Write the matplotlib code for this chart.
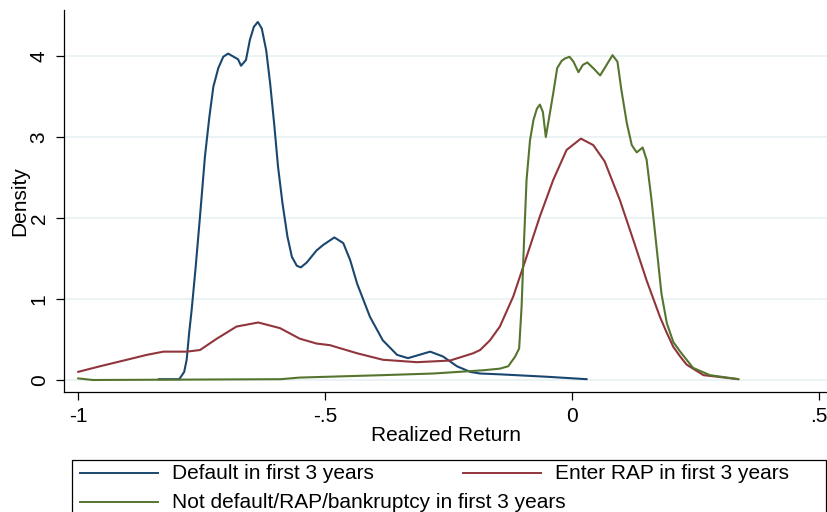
import matplotlib.pyplot as plt
from matplotlib.lines import Line2D
from matplotlib.patches import Rectangle

plt.rcParams["font.family"] = ["Liberation Sans", "DejaVu Sans"]

# density curves
default_x = [-0.837, -0.795, -0.785, -0.780, -0.775, -0.770, -0.762, -0.753, -0.743,
             -0.734, -0.726, -0.716, -0.706, -0.696, -0.682, -0.676, -0.670, -0.660,
             -0.652, -0.644, -0.636, -0.628, -0.619, -0.611, -0.603, -0.595, -0.586,
             -0.576, -0.567, -0.557, -0.549, -0.537, -0.517, -0.503, -0.481, -0.463,
             -0.449, -0.435, -0.409, -0.383, -0.354, -0.332, -0.287, -0.261, -0.233,
             -0.206, -0.186, -0.146, -0.051, 0.030]
default_y = [0.01, 0.01, 0.10, 0.25, 0.58, 0.86, 1.38, 2.02, 2.76,
             3.25, 3.62, 3.85, 3.99, 4.03, 3.98, 3.96, 3.88, 3.95,
             4.20, 4.36, 4.42, 4.34, 4.07, 3.66, 3.17, 2.63, 2.18,
             1.77, 1.52, 1.41, 1.39, 1.45, 1.60, 1.67, 1.76, 1.69,
             1.48, 1.19, 0.78, 0.49, 0.31, 0.27, 0.35, 0.29, 0.17,
             0.10, 0.08, 0.07, 0.04, 0.01]

rap_x = [-1.0, -0.955, -0.901, -0.861, -0.827, -0.780, -0.753, -0.719, -0.679,
         -0.635, -0.591, -0.551, -0.517, -0.490, -0.435, -0.383, -0.314, -0.247,
         -0.200, -0.186, -0.166, -0.146, -0.119, -0.092, -0.065, -0.038, -0.011,
         0.018, 0.043, 0.066, 0.097, 0.124, 0.151, 0.178, 0.192, 0.205, 0.219,
         0.232, 0.266, 0.337]
rap_y = [0.10, 0.17, 0.25, 0.31, 0.35, 0.35, 0.37, 0.51, 0.66,
         0.71, 0.64, 0.51, 0.45, 0.43, 0.33, 0.25, 0.22, 0.24,
         0.33, 0.37, 0.49, 0.66, 1.03, 1.52, 2.02, 2.47, 2.84,
         2.98, 2.90, 2.70, 2.22, 1.73, 1.23, 0.78, 0.58, 0.41, 0.29,
         0.19, 0.06, 0.01]

other_x = [-1.0, -0.970, -0.590, -0.551, -0.383, -0.281, -0.180, -0.146, -0.129,
           -0.115, -0.107, -0.102, -0.097, -0.092, -0.085, -0.078, -0.071, -0.065,
           -0.059, -0.053, -0.046, -0.038, -0.030, -0.021, -0.014, -0.005, 0.003,
           0.013, 0.022, 0.031, 0.043, 0.057, 0.070, 0.082, 0.092, 0.100, 0.111,
           0.121, 0.131, 0.143, 0.151, 0.161, 0.171, 0.181, 0.192, 0.205, 0.219,
           0.245, 0.279, 0.337]
other_y = [0.02, 0.00, 0.01, 0.03, 0.06, 0.08, 0.12, 0.14, 0.17,
           0.29, 0.39, 0.91, 1.73, 2.47, 2.96, 3.21, 3.35, 3.40,
           3.31, 3.00, 3.25, 3.54, 3.85, 3.94, 3.97, 3.99, 3.93,
           3.80, 3.89, 3.92, 3.85, 3.76, 3.89, 4.01, 3.93, 3.58, 3.17,
           2.90, 2.81, 2.87, 2.72, 2.22, 1.65, 1.07, 0.70, 0.47, 0.35,
           0.15, 0.06, 0.01]

labels = ["Default in first 3 years", "Enter RAP in first 3 years",
          "Not default/RAP/bankruptcy in first 3 years"]
colors = ["#1a476f", "#90353b", "#55752f"]

xticks = [-1, -0.5, 0, 0.5]
xticklabels = ["-1", "-.5", "0", ".5"]
yticks = [0, 1, 2, 3, 4]

fs = 15

fig = plt.figure(figsize=(8.28, 5.12), dpi=100)
ax = fig.add_axes([0.0773, 0.2344, 0.9227, 0.7461])

for y in yticks:
    ax.axhline(y, color="#eaf2f3", lw=1.3, zorder=0)

line_kw = dict(lw=1.5, solid_joinstyle="round", solid_capstyle="round")
ax.plot(default_x, default_y, color=colors[0], **line_kw)
ax.plot(rap_x, rap_y, color=colors[1], **line_kw)
ax.plot(other_x, other_y, color=colors[2], **line_kw)

ax.set_xlim(-1.0283, 0.5182)
ax.set_ylim(-0.148, 4.568)
ax.set_xticks(xticks)
ax.set_xticklabels(xticklabels)
ax.set_yticks(yticks)
ax.set_yticklabels([str(v) for v in yticks], rotation=90, va="center")
ax.tick_params(labelsize=fs, length=6, width=0.9, pad=5)
ax.spines["top"].set_visible(False)
ax.spines["right"].set_visible(False)
ax.spines["left"].set_linewidth(0.9)
ax.spines["bottom"].set_linewidth(0.9)

ax.set_xlabel("Realized Return", fontsize=fs)
ax.xaxis.set_label_coords(0.5, -0.09)
ax.set_ylabel("Density", fontsize=fs)
ax.yaxis.set_label_coords(-0.045, 0.5)

# legend drawn by hand, Stata-style two columns
fig.add_artist(Rectangle((0.087, -0.05), 0.9105, 0.1516, transform=fig.transFigure,
                         fill=False, edgecolor="black", lw=0.9))
rows = [(0.097, 0.076, 0), (0.559, 0.076, 1), (0.097, 0.0195, 2)]
for x0, y0, i in rows:
    fig.add_artist(Line2D([x0, x0 + 0.094], [y0, y0], transform=fig.transFigure,
                          color=colors[i], lw=1.4))
    fig.text(x0 + 0.111, y0, labels[i], fontsize=fs, va="center", ha="left")

fig.savefig("out.png", dpi=100)
